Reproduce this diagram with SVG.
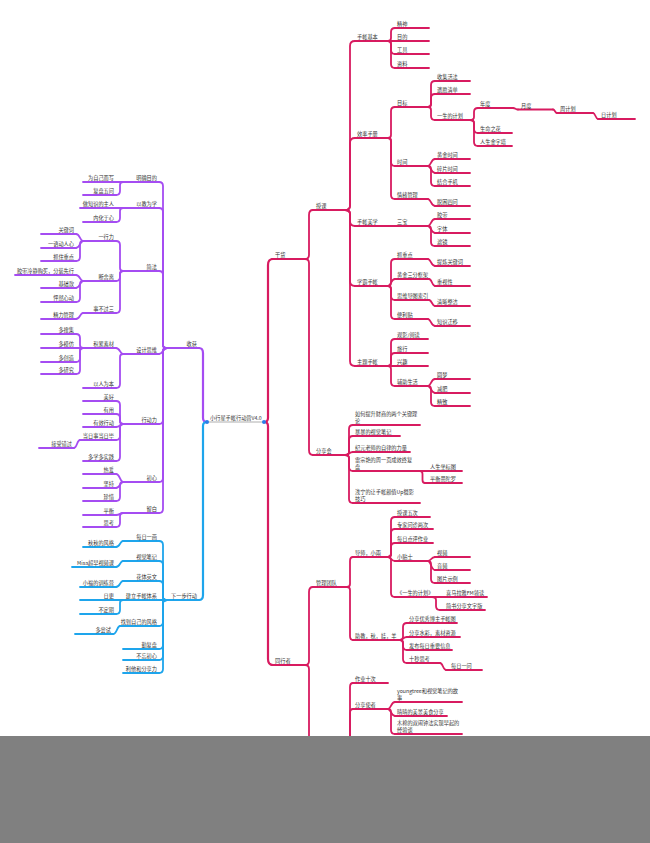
<svg xmlns="http://www.w3.org/2000/svg" width="650" height="843" viewBox="0 0 650 843">
<style>
.c{fill:none;stroke-width:1.8;stroke-linecap:round;stroke-linejoin:round}
.w{stroke-width:2.2}
.r{stroke:#d81b60}
.p{stroke:#a54cf2}
.b{stroke:#1ea5ec}
text{font-family:"Noto Sans CJK SC","Noto Sans",sans-serif;font-size:5.2px;fill:#333}
.e{text-anchor:end}
</style>
<rect width="650" height="843" fill="#fff"/>
<g id="connectors">
<g class="c r">
<path class="w" d="M264 422Q268 422 268 418V265Q268 259 273 259"/>
<path class="w" d="M264 422Q268 422 268 426V659Q268 665 273 665"/>
<path d="M305 259Q309 259 309 255V215Q309 210 313 210"/>
<path d="M305 259Q309 259 309 263V450Q309 455 313 455"/>
<path d="M305 665Q309 665 309 661V592Q309 587 313 587"/>
<path d="M305 665Q309 665 309 669V785Q309 790 313 790"/>
<path d="M345 210Q350 210 350 206V46Q350 41 355 41"/>
<path d="M345 210Q350 210 350 206V143Q350 138 355 138"/>
<path d="M345 210Q350 210 350 214V221Q350 226 355 226"/>
<path d="M345 210Q350 210 350 214V281Q350 286 355 286"/>
<path d="M345 210Q350 210 350 214V361Q350 366 355 366"/>
<path d="M388 41Q391 41 391 38V32Q391 28 395 28"/>
<path d="M388 41H395"/>
<path d="M388 41Q391 41 391 44V50Q391 54 395 54"/>
<path d="M388 41Q391 41 391 44V64Q391 68 395 68"/>
<path d="M388 138Q391 138 391 135V111Q391 107 395 107"/>
<path d="M388 138Q391 138 391 141V162Q391 166 395 166"/>
<path d="M388 138Q391 138 391 141V195Q391 199 395 199"/>
<path d="M428 107Q431 107 431 104V85Q431 81 435 81"/>
<path d="M428 107Q431 107 431 104V98Q431 94 435 94"/>
<path d="M428 107Q431 107 431 110V116Q431 120 435 120"/>
<path d="M470 120Q474 120 474 117V112Q474 108 478 108"/>
<path d="M470 120Q474 120 474 123V129Q474 133 478 133"/>
<path d="M470 120Q474 120 474 123V142Q474 146 478 146"/>
<path d="M513 108C515.5 108 515.5 109.5 518 109.5"/>
<path d="M553 109.5C555 109.5 555 113 557 113"/>
<path d="M593 113C595.5 113 595.5 119 598 119"/>
<path d="M428 166C431 166 431 159 435 159"/>
<path d="M428 166C431 166 431 173 435 173"/>
<path d="M428 166Q431 166 431 169V182Q431 186 435 186"/>
<path d="M428 199C431 199 431 206 435 206"/>
<path d="M388 226H395"/>
<path d="M428 226C431 226 431 219 435 219"/>
<path d="M428 226C431 226 431 233 435 233"/>
<path d="M428 226Q431 226 431 229V242Q431 246 435 246"/>
<path d="M388 286Q391 286 391 283V263Q391 259 395 259"/>
<path d="M388 286C391 286 391 279 395 279"/>
<path d="M388 286Q391 286 391 289V296Q391 300 395 300"/>
<path d="M388 286Q391 286 391 289V315Q391 319 395 319"/>
<path d="M428 259C431 259 431 266 435 266"/>
<path d="M429 279C432 279 432 286 435 286"/>
<path d="M429 300C432 300 432 306 435 306"/>
<path d="M428 319C431 319 431 326 435 326"/>
<path d="M388 366Q391 366 391 363V343Q391 339 395 339"/>
<path d="M388 366Q391 366 391 363V357Q391 353 395 353"/>
<path d="M388 366H395"/>
<path d="M388 366Q391 366 391 369V382Q391 386 395 386"/>
<path d="M428 386C431 386 431 379 435 379"/>
<path d="M428 386C431 386 431 393 435 393"/>
<path d="M428 386Q431 386 431 389V402Q431 406 435 406"/>
<path d="M345 455Q349 455 349 452V429Q349 425 353 425"/>
<path d="M345 455Q349 455 349 452V440Q349 436 353 436"/>
<path d="M345 455C349 455 349 452 353 452"/>
<path d="M345 455Q349 455 349 458V467Q349 471 353 471"/>
<path d="M345 455Q349 455 349 458V499Q349 503 353 503"/>
<path d="M420 471H425"/>
<path d="M420 471Q422.5 471 422.5 474V480Q422.5 483 425 483"/>
<path d="M347 587Q350 587 350 584V561Q350 557 353 557"/>
<path d="M347 587Q350 587 350 590V636Q350 640 353 640"/>
<path d="M388 557Q391 557 391 554V521Q391 517 395 517"/>
<path d="M388 557Q391 557 391 554V533Q391 529 395 529"/>
<path d="M388 557Q391 557 391 554V547Q391 543 395 543"/>
<path d="M388 557C391 557 391 561 395 561"/>
<path d="M388 557Q391 557 391 560V593Q391 597 395 597"/>
<path d="M428 561C431 561 431 557 435 557"/>
<path d="M428 561C431 561 431 570 435 570"/>
<path d="M428 561Q431 561 431 564V579Q431 583 435 583"/>
<path d="M432 597H440"/>
<path d="M432 597Q436 597 436 600V606Q436 610 440 610"/>
<path d="M400 640Q403 640 403 637V627Q403 623 407 623"/>
<path d="M400 640C403 640 403 637 407 637"/>
<path d="M400 640Q403 640 403 643V646Q403 650 407 650"/>
<path d="M400 640Q403 640 403 643V659Q403 663 407 663"/>
<path d="M440 663C443 663 443 670 446 670"/>
<path d="M347 790Q350 790 350 787V687Q350 683 353 683"/>
<path d="M347 790Q350 790 350 787V713Q350 709 353 709"/>
<path d="M388 709C391 709 391 702 395 702"/>
<path d="M388 709C391 709 391 716 395 716"/>
<path d="M388 709Q391 709 391 712V730Q391 734 395 734"/>
</g>
<g class="c p">
<path class="w" d="M207 422Q203 422 203 418V353Q203 348 199 348"/>
<path d="M167 348Q163 348 163 345V186Q163 182 159 182"/>
<path d="M167 348Q163 348 163 345V212Q163 208 159 208"/>
<path d="M167 348Q163 348 163 345V275Q163 271 159 271"/>
<path d="M167 348C163 348 163 354 159 354"/>
<path d="M167 348Q163 348 163 351V420Q163 424 159 424"/>
<path d="M167 348Q163 348 163 351V478Q163 482 159 482"/>
<path d="M167 348Q163 348 163 351V509Q163 513 159 513"/>
<path d="M123 182H116"/>
<path d="M123 182Q120 182 120 185V191Q120 195 116 195"/>
<path d="M123 208H116"/>
<path d="M123 208Q120 208 120 211V218Q120 222 116 222"/>
<path d="M123 271Q120 271 120 268V245Q120 241 116 241"/>
<path d="M123 271Q120 271 120 274V277Q120 281 116 281"/>
<path d="M123 271Q120 271 120 274V309Q120 313 116 313"/>
<path d="M83 241C80 241 80 234 76 234"/>
<path d="M83 241C80 241 80 248 76 248"/>
<path d="M83 241Q80 241 80 244V257Q80 261 76 261"/>
<path d="M83 281C80 281 80 275 76 275"/>
<path d="M83 281C80 281 80 288 76 288"/>
<path d="M83 281Q80 281 80 284V298Q80 302 76 302"/>
<path d="M83 313C80 313 80 319 76 319"/>
<path d="M123 354C120 354 120 348 116 348"/>
<path d="M123 354Q120 354 120 357V384Q120 388 116 388"/>
<path d="M83 348Q80 348 80 345V338Q80 334 76 334"/>
<path d="M83 348H76"/>
<path d="M83 348Q80 348 80 351V358Q80 362 76 362"/>
<path d="M83 348Q80 348 80 351V370Q80 374 76 374"/>
<path d="M123 424Q120 424 120 421V405Q120 401 116 401"/>
<path d="M123 424Q120 424 120 421V418Q120 414 116 414"/>
<path d="M123 424C120 424 120 427 116 427"/>
<path d="M123 424Q120 424 120 427V436Q120 440 116 440"/>
<path d="M123 424Q120 424 120 427V457Q120 461 116 461"/>
<path d="M80 440C77 440 77 448 74 448"/>
<path d="M123 482C120 482 120 474 116 474"/>
<path d="M123 482C120 482 120 488 116 488"/>
<path d="M123 482Q120 482 120 485V497Q120 501 116 501"/>
<path d="M123 513C120 513 120 515 116 515"/>
<path d="M123 513Q120 513 120 516V523Q120 527 116 527"/>
</g>
<g class="c b">
<path class="w" d="M207 422Q203 422 203 426V595Q203 600 199 600"/>
<path d="M167 600Q163 600 163 597V545Q163 541 159 541"/>
<path d="M167 600Q163 600 163 597V565Q163 561 159 561"/>
<path d="M167 600Q163 600 163 597V585Q163 581 159 581"/>
<path d="M167 600H159"/>
<path d="M167 600Q163 600 163 603V622Q163 626 159 626"/>
<path d="M167 600Q163 600 163 603V645Q163 649 159 649"/>
<path d="M167 600Q163 600 163 603V656Q163 660 159 660"/>
<path d="M167 600Q163 600 163 603V669Q163 673 159 673"/>
<path d="M123 541C120 541 120 547 116 547"/>
<path d="M123 561C120 561 120 567 116 567"/>
<path d="M123 581C120 581 120 587 116 587"/>
<path d="M123 600H116"/>
<path d="M123 600Q120 600 120 603V610Q120 614 116 614"/>
<path d="M120 626C117 626 117 634 113 634"/>
</g>
</g>
<g id="root">
<path d="M207 422H264" stroke="#9a9a9a" stroke-width="0.8"/>
<circle cx="207" cy="422" r="2" fill="#2b7de9"/>
<circle cx="264" cy="422" r="2" fill="#2b7de9"/>
<text x="210" y="419.5">小行星手帐行动营V4.0</text>
</g>
<g id="n-ganhuo"><path class="c r w" d="M272 259H305"/><text x="275" y="257">干货</text></g>
<g id="n-tongxingzhe"><path class="c r w" d="M272 665H305"/><text x="275" y="663">同行者</text></g>
<g id="n-shouke"><path class="c r" d="M313 210H345"/><text x="316" y="208">授课</text></g>
<g id="n-fenxianghui"><path class="c r" d="M313 455H345"/><text x="316" y="453">分享会</text></g>
<g id="n-guanli"><path class="c r" d="M313 587H347"/><text x="316" y="585">管理团队</text></g>
<g id="n-jiben"><path class="c r" d="M355 41H388"/><text x="357" y="39">手帐基本</text></g>
<g id="n-xiaolv"><path class="c r" d="M355 138H388"/><text x="357" y="136">效率手册</text></g>
<g id="n-meixue"><path class="c r" d="M355 226H388"/><text x="357" y="224">手帐美学</text></g>
<g id="n-xueba"><path class="c r" d="M355 286H388"/><text x="357" y="284">学霸手帐</text></g>
<g id="n-zhuti"><path class="c r" d="M355 366H388"/><text x="357" y="364">主题手帐</text></g>
<g id="n-jingshen"><path class="c r" d="M395 28H429"/><text x="397" y="26">精神</text></g>
<g id="n-mudi"><path class="c r" d="M395 41H429"/><text x="397" y="39">目的</text></g>
<g id="n-gongju"><path class="c r" d="M395 54H429"/><text x="397" y="52">工具</text></g>
<g id="n-ziliao"><path class="c r" d="M395 68H429"/><text x="397" y="66">资料</text></g>
<g id="n-mubiao"><path class="c r" d="M395 107H428"/><text x="397" y="105">目标</text></g>
<g id="n-shijian"><path class="c r" d="M395 166H428"/><text x="397" y="164">时间</text></g>
<g id="n-qingxu"><path class="c r" d="M395 199H428"/><text x="397" y="197">情绪管理</text></g>
<g id="n-shouji"><path class="c r" d="M435 81H470"/><text x="437" y="79">收集活法</text></g>
<g id="n-yiyuan"><path class="c r" d="M435 94H470"/><text x="437" y="92">遗愿清单</text></g>
<g id="n-yisheng"><path class="c r" d="M435 120H470"/><text x="437" y="118">一生的计划</text></g>
<g id="n-niandu"><path class="c r" d="M478 108H513"/><text x="480" y="106">年度</text></g>
<g id="n-shengming"><path class="c r" d="M478 133H512"/><text x="480" y="131">生命之花</text></g>
<g id="n-jinzita"><path class="c r" d="M478 146H512"/><text x="480" y="144">人生金字塔</text></g>
<g id="n-yuedu"><path class="c r" d="M518 109.5H553"/><text x="521" y="107.5">月度</text></g>
<g id="n-zhou"><path class="c r" d="M557 113H593"/><text x="560" y="111">周计划</text></g>
<g id="n-ri"><path class="c r" d="M598 119H635"/><text x="601" y="117">日计划</text></g>
<g id="n-huangjin"><path class="c r" d="M435 159H470"/><text x="437" y="157">黄金时间</text></g>
<g id="n-suipian"><path class="c r" d="M435 173H470"/><text x="437" y="171">碎片时间</text></g>
<g id="n-jiehe"><path class="c r" d="M435 186H470"/><text x="437" y="184">结合手机</text></g>
<g id="n-tuokun"><path class="c r" d="M435 206H470"/><text x="437" y="204">脱困四问</text></g>
<g id="n-sanbao"><path class="c r" d="M395 226H428"/><text x="397" y="224">三宝</text></g>
<g id="n-jiaodai"><path class="c r" d="M435 219H470"/><text x="437" y="217">胶带</text></g>
<g id="n-ziti"><path class="c r" d="M435 233H470"/><text x="437" y="231">字体</text></g>
<g id="n-lvjing"><path class="c r" d="M435 246H470"/><text x="437" y="244">滤镜</text></g>
<g id="n-zhuazhongdian"><path class="c r" d="M395 259H428"/><text x="397" y="257">抓重点</text></g>
<g id="n-sanfen"><path class="c r" d="M395 279H429"/><text x="397" y="277">黄金三分框架</text></g>
<g id="n-siwei"><path class="c r" d="M395 300H429"/><text x="397" y="298">思维导图索引</text></g>
<g id="n-bianlitie"><path class="c r" d="M395 319H428"/><text x="397" y="317">便利贴</text></g>
<g id="n-tilian"><path class="c r" d="M435 266H470"/><text x="437" y="264">提炼关键词</text></g>
<g id="n-zhongshi"><path class="c r" d="M435 286H470"/><text x="437" y="284">重视性</text></g>
<g id="n-qingxi"><path class="c r" d="M435 306H470"/><text x="437" y="304">清晰整洁</text></g>
<g id="n-zhishi"><path class="c r" d="M435 326H470"/><text x="437" y="324">知识迁移</text></g>
<g id="n-guanying"><path class="c r" d="M395 339H428"/><text x="397" y="337">观影/阅读</text></g>
<g id="n-lvxing"><path class="c r" d="M395 353H428"/><text x="397" y="351">旅行</text></g>
<g id="n-xingqu"><path class="c r" d="M395 366H428"/><text x="397" y="364">兴趣</text></g>
<g id="n-fuzhu"><path class="c r" d="M395 386H428"/><text x="397" y="384">辅助生活</text></g>
<g id="n-yuanmeng"><path class="c r" d="M435 379H470"/><text x="437" y="377">圆梦</text></g>
<g id="n-jianfei"><path class="c r" d="M435 393H470"/><text x="437" y="391">减肥</text></g>
<g id="n-jingzhi"><path class="c r" d="M435 406H470"/><text x="437" y="404">精致</text></g>
<g id="n-caishang"><path class="c r" d="M353 425H420"/><text x="355" y="416">如何提升财商的两个关键理</text><text x="355" y="422.5">论</text></g>
<g id="n-baobao"><path class="c r" d="M353 436H400"/><text x="355" y="434">暴暴的视觉笔记</text></g>
<g id="n-jiyuan"><path class="c r" d="M353 452H410"/><text x="355" y="450">纪元老师的自律的力量</text></g>
<g id="n-leizongyan"><path class="c r" d="M353 471H420"/><text x="355" y="462">雷宗艳的周一页成效终复</text><text x="355" y="468.5">盘</text></g>
<g id="n-qianning"><path class="c r" d="M353 503H420"/><text x="355" y="494">浅宁的让手帐颜值Up摄影</text><text x="355" y="500.5">技巧</text></g>
<g id="n-zuobiao"><path class="c r" d="M425 471H462"/><text x="430" y="469">人生坐标图</text></g>
<g id="n-mantuoluo"><path class="c r" d="M425 483H462"/><text x="430" y="481">平衡曼陀罗</text></g>
<g id="n-daoshi"><path class="c r" d="M353 557H388"/><text x="355" y="555">导师，小雨</text></g>
<g id="n-zhujiao"><path class="c r" d="M353 640H400"/><text x="355" y="638">助教，秋，娃，羊</text></g>
<g id="n-wuci"><path class="c r" d="M395 517H430"/><text x="397" y="515">授课五次</text></g>
<g id="n-wenzhen"><path class="c r" d="M395 529H433"/><text x="397" y="527">专家问诊两次</text></g>
<g id="n-dianping"><path class="c r" d="M395 543H433"/><text x="397" y="541">每日点评作业</text></g>
<g id="n-xiaotieshi"><path class="c r" d="M395 561H428"/><text x="397" y="559">小贴士</text></g>
<g id="n-jihuashu"><path class="c r" d="M395 597H432"/><text x="397" y="595">《一生的计划》</text></g>
<g id="n-shipin"><path class="c r" d="M435 557H470"/><text x="437" y="555">视频</text></g>
<g id="n-yinpin"><path class="c r" d="M435 570H470"/><text x="437" y="568">音频</text></g>
<g id="n-tupian"><path class="c r" d="M435 583H470"/><text x="437" y="581">图片示例</text></g>
<g id="n-ximalaya"><path class="c r" d="M440 597H487"/><text x="446" y="595">喜马拉雅FM领读</text></g>
<g id="n-jianshu"><path class="c r" d="M440 610H485"/><text x="446" y="608">简书分享文字版</text></g>
<g id="n-youxiu"><path class="c r" d="M407 623H457"/><text x="409" y="621">分享优秀博主手帐图</text></g>
<g id="n-shuicai"><path class="c r" d="M407 637H460"/><text x="409" y="635">分享水彩，素材资源</text></g>
<g id="n-fabu"><path class="c r" d="M407 650H452"/><text x="409" y="648">发布每日重要信息</text></g>
<g id="n-shimiao"><path class="c r" d="M407 663H440"/><text x="409" y="661">十秒思考</text></g>
<g id="n-meiriyiwen"><path class="c r" d="M446 670H482"/><text x="451" y="668">每日一问</text></g>
<g id="n-zuoye"><path class="c r" d="M353 683H388"/><text x="355" y="681">作业十次</text></g>
<g id="n-shizhe"><path class="c r" d="M353 709H388"/><text x="355" y="707">分享使者</text></g>
<g id="n-youngtree"><path class="c r" d="M395 702H462"/><text x="397" y="693">youngtree和视觉笔记的故</text><text x="397" y="699.5">事</text></g>
<g id="n-qingqing"><path class="c r" d="M395 716H447"/><text x="397" y="714">晴晴的美景美食分享</text></g>
<g id="n-mumian"><path class="c r" d="M395 734H462"/><text x="397" y="725">木棉的双闹钟法实现早起的</text><text x="397" y="731.5">经验谈</text></g>
<g id="n-shouhuo"><path class="c p w" d="M167 348H199"/><text class="e" x="197" y="346">收获</text></g>
<g id="n-xiayibu"><path class="c b w" d="M167 600H199"/><text class="e" x="197" y="598">下一步行动</text></g>
<g id="n-mingque"><path class="c p" d="M123 182H159"/><text class="e" x="157" y="180">明确目的</text></g>
<g id="n-yijiao"><path class="c p" d="M123 208H159"/><text class="e" x="157" y="206">以教为学</text></g>
<g id="n-jianfa"><path class="c p" d="M123 271H159"/><text class="e" x="157" y="269">简法</text></g>
<g id="n-sheji"><path class="c p" d="M123 354H159"/><text class="e" x="157" y="352">设计思维</text></g>
<g id="n-xingdongli"><path class="c p" d="M123 424H159"/><text class="e" x="157" y="422">行动力</text></g>
<g id="n-chuxin"><path class="c p" d="M123 482H159"/><text class="e" x="157" y="480">初心</text></g>
<g id="n-liubai"><path class="c p" d="M123 513H159"/><text class="e" x="157" y="511">留白</text></g>
<g id="n-weiziji"><path class="c p" d="M83 182H116"/><text class="e" x="114" y="180">为自己而写</text></g>
<g id="n-fupan"><path class="c p" d="M83 195H116"/><text class="e" x="114" y="193">复盘五问</text></g>
<g id="n-zhuren"><path class="c p" d="M80 208H116"/><text class="e" x="114" y="206">做知识的主人</text></g>
<g id="n-neihua"><path class="c p" d="M83 222H116"/><text class="e" x="114" y="220">内化于心</text></g>
<g id="n-yihangli"><path class="c p" d="M83 241H116"/><text class="e" x="114" y="239">一行力</text></g>
<g id="n-duansheli"><path class="c p" d="M83 281H116"/><text class="e" x="114" y="279">断舍离</text></g>
<g id="n-shibuguosan"><path class="c p" d="M83 313H116"/><text class="e" x="114" y="311">事不过三</text></g>
<g id="n-guanjianci"><path class="c p" d="M41 234H76"/><text class="e" x="74" y="232">关键词</text></g>
<g id="n-yiyu"><path class="c p" d="M41 248H76"/><text class="e" x="74" y="246">一语动人心</text></g>
<g id="n-zhuazhu"><path class="c p" d="M41 261H76"/><text class="e" x="74" y="259">抓住重点</text></g>
<g id="n-jiaodaileng"><path class="c p" d="M15 275H76"/><text class="e" x="74" y="273">胶带冷静购买，分装先行</text></g>
<g id="n-jichukuan"><path class="c p" d="M41 288H76"/><text class="e" x="74" y="286">基础款</text></g>
<g id="n-pengran"><path class="c p" d="M41 302H76"/><text class="e" x="74" y="300">怦然心动</text></g>
<g id="n-jingli"><path class="c p" d="M41 319H76"/><text class="e" x="74" y="317">精力管理</text></g>
<g id="n-jilei"><path class="c p" d="M83 348H116"/><text class="e" x="114" y="346">积累素材</text></g>
<g id="n-yiren"><path class="c p" d="M83 388H116"/><text class="e" x="114" y="386">以人为本</text></g>
<g id="n-souji"><path class="c p" d="M41 334H76"/><text class="e" x="74" y="332">多搜集</text></g>
<g id="n-mofang"><path class="c p" d="M41 348H76"/><text class="e" x="74" y="346">多模仿</text></g>
<g id="n-chuangzao"><path class="c p" d="M41 362H76"/><text class="e" x="74" y="360">多创造</text></g>
<g id="n-yanjiu"><path class="c p" d="M41 374H76"/><text class="e" x="74" y="372">多研究</text></g>
<g id="n-meihao"><path class="c p" d="M83 401H116"/><text class="e" x="114" y="399">美好</text></g>
<g id="n-youyong"><path class="c p" d="M83 414H116"/><text class="e" x="114" y="412">有用</text></g>
<g id="n-youxiao"><path class="c p" d="M83 427H116"/><text class="e" x="114" y="425">有效行动</text></g>
<g id="n-dangri"><path class="c p" d="M80 440H116"/><text class="e" x="114" y="438">当日事当日毕</text></g>
<g id="n-duoxue"><path class="c p" d="M83 461H116"/><text class="e" x="114" y="459">多学多实践</text></g>
<g id="n-jieshou"><path class="c p" d="M39 448H74"/><text class="e" x="72" y="446">接受错过</text></g>
<g id="n-reai"><path class="c p" d="M83 474H116"/><text class="e" x="114" y="472">热爱</text></g>
<g id="n-jianchi"><path class="c p" d="M83 488H116"/><text class="e" x="114" y="486">坚持</text></g>
<g id="n-zhenxi"><path class="c p" d="M83 501H116"/><text class="e" x="114" y="499">珍惜</text></g>
<g id="n-pingheng"><path class="c p" d="M83 515H116"/><text class="e" x="114" y="513">平衡</text></g>
<g id="n-sikao"><path class="c p" d="M83 527H116"/><text class="e" x="114" y="525">思考</text></g>
<g id="n-meiriyihua"><path class="c b" d="M123 541H159"/><text class="e" x="157" y="539">每日一画</text></g>
<g id="n-shijue"><path class="c b" d="M123 561H159"/><text class="e" x="157" y="559">视觉笔记</text></g>
<g id="n-huati"><path class="c b" d="M123 581H159"/><text class="e" x="157" y="579">花体英文</text></g>
<g id="n-tixi"><path class="c b" d="M123 600H159"/><text class="e" x="157" y="598">建立手帐体系</text></g>
<g id="n-fengge"><path class="c b" d="M120 626H159"/><text class="e" x="157" y="624">找到自己的风格</text></g>
<g id="n-qinfupan"><path class="c b" d="M123 649H159"/><text class="e" x="157" y="647">勤复盘</text></g>
<g id="n-buwang"><path class="c b" d="M123 660H159"/><text class="e" x="157" y="658">不忘初心</text></g>
<g id="n-lita"><path class="c b" d="M123 673H159"/><text class="e" x="157" y="671">利他和分享力</text></g>
<g id="n-qiuqiu"><path class="c b" d="M83 547H116"/><text class="e" x="114" y="545">秋秋的风格</text></g>
<g id="n-misa"><path class="c b" d="M72 567H116"/><text class="e" x="114" y="565">Misa超早视频课</text></g>
<g id="n-xiaofu"><path class="c b" d="M80 587H116"/><text class="e" x="114" y="585">小福的训练营</text></g>
<g id="n-rigeng"><path class="c b" d="M80 600H116"/><text class="e" x="114" y="598">日更</text></g>
<g id="n-budingqi"><path class="c b" d="M80 614H116"/><text class="e" x="114" y="612">不定期</text></g>
<g id="n-duochangshi"><path class="c b" d="M75 634H113"/><text class="e" x="111" y="632">多尝试</text></g>
<rect x="0" y="736" width="650" height="107" fill="#808080"/>
</svg>
